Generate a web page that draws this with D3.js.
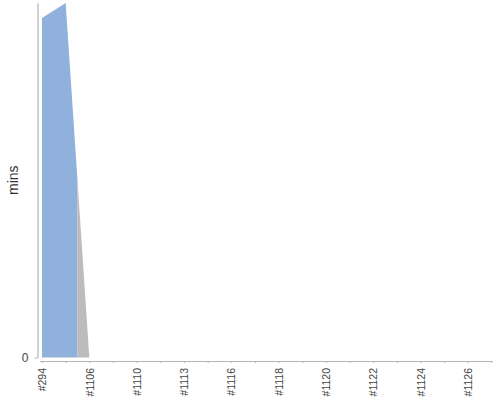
<!DOCTYPE html>
<html>
<head>
<meta charset="utf-8">
<script src="https://cdn.jsdelivr.net/npm/d3@7"></script>
<style>
  body { margin: 0; background: #fff; }
  svg { display: block; font-family: "Liberation Sans", Arial, sans-serif; }
  .axis path, .axis line { stroke: #b4b4b4; }
  .axis text { fill: #444; }
</style>
</head>
<body>
<div id="chart"></div>
<script>
// build time trend, one value per build
const builds = ["#294", "#1105", "#1106", "#1108", "#1110", "#1112", "#1113", "#1115", "#1116", "#1117",
                "#1118", "#1119", "#1120", "#1121", "#1122", "#1123", "#1124", "#1125", "#1126", "#1127"];
const durations = [226, 236, 0, 0, 0, 0, 0, 0, 0, 0, 0, 0, 0, 0, 0, 0, 0, 0, 0, 0];
const results = ["SUCCESS", "SUCCESS", "ABORTED", "SUCCESS", "SUCCESS", "SUCCESS", "SUCCESS", "SUCCESS", "SUCCESS", "SUCCESS",
                 "SUCCESS", "SUCCESS", "SUCCESS", "SUCCESS", "SUCCESS", "SUCCESS", "SUCCESS", "SUCCESS", "SUCCESS", "SUCCESS"];
const resultColors = {SUCCESS: "#8fb1dc", ABORTED: "#bcbcbc"};

const width = 500;
const height = 400;
const margin = {left: 42, right: 8.5, top: 3, bottom: 42.5};

const svg = d3.select("#chart")
  .append("svg")
  .attr("width", width)
  .attr("height", height);

// x: one point per build
const x = d3.scalePoint()
  .domain(d3.range(builds.length))
  .range([margin.left, width - margin.right]);

const y = d3.scaleLinear()
  .domain([0, d3.max(durations)])
  .range([height - margin.bottom, margin.top]);

// each build fills from the half-way point on its left to the half-way point on its right
// (like the jfreechart stacked area renderer). builds in a row with the same result
// go in one path so there are no seams
const area = d3.area()
  .x(d => d.x)
  .y0(y(0))
  .y1(d => y(d.v));

const n = builds.length;
const runs = [];
for (let i = 0; i < n; i++) {
  const pts = [];
  if (i > 0) {
    pts.push({x: (x(i - 1) + x(i)) / 2, v: (durations[i - 1] + durations[i]) / 2});
  }
  pts.push({x: x(i), v: durations[i]});
  if (i < n - 1) {
    pts.push({x: (x(i) + x(i + 1)) / 2, v: (durations[i] + durations[i + 1]) / 2});
  }
  const last = runs[runs.length - 1];
  if (last && last.result === results[i]) {
    last.pts = last.pts.concat(pts.slice(1));
  } else {
    runs.push({result: results[i], pts: pts});
  }
}

svg.selectAll(".run")
  .data(runs)
  .enter()
  .append("path")
    .attr("class", "run")
    .attr("d", d => area(d.pts))
    .attr("fill", d => resultColors[d.result]);

// y axis, shifted left of the plot
svg.append("g")
  .attr("class", "axis")
  .attr("transform", `translate(${margin.left - 4.5}, 0)`)
  .call(d3.axisLeft(y).tickValues([0]).tickSize(3).tickSizeOuter(0))
  .attr("font-size", "12px")
  .call(g => g.select(".domain").attr("stroke-width", 1.2))
  .selectAll("text").attr("dx", "-3px");

// x axis, shifted below the plot
const xAxis = svg.append("g")
  .attr("class", "axis")
  .attr("transform", `translate(0, ${height - margin.bottom + 3.5})`)
  .call(d3.axisBottom(x)
          .tickSize(2)
          .tickSizeOuter(0)
          .tickFormat(i => i % 2 === 0 ? builds[i] : ""))
  .attr("font-size", "10.5px");

xAxis.select(".domain").attr("d", `M${margin.left - 2},0.5H${width - margin.right + 0.5}`);

xAxis.selectAll("text")
  .attr("transform", "rotate(-90)")
  .attr("text-anchor", "end")
  .attr("x", -7)
  .attr("y", 0)
  .attr("dy", "0.35em")
  .attr("fill", "#333");

// y label
svg.append("text")
  .attr("transform", `translate(18, ${(margin.top + height - margin.bottom) / 2}) rotate(-90)`)
  .attr("text-anchor", "middle")
  .attr("font-size", "14px")
  .attr("fill", "#333")
  .text("mins");
</script>
</body>
</html>
